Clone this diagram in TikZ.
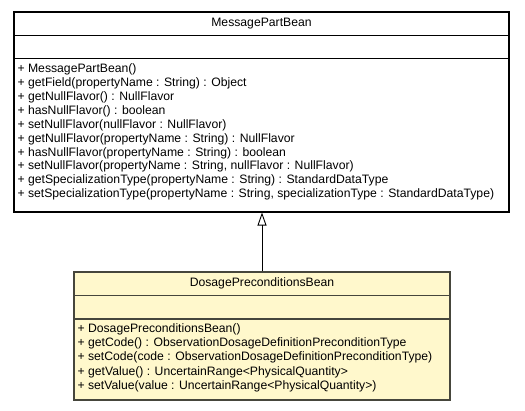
\documentclass[tikz,border=0pt]{standalone}
\usepackage{fontspec}
\setmainfont{Liberation Sans}
\usetikzlibrary{arrows.meta}
\definecolor{beanfill}{RGB}{255,248,204}
\definecolor{beanline}{RGB}{70,70,60}
\newcommand{\umltitle}[4]{\node[font=\fontsize{12.2}{14}\selectfont] (#1) at (#2,#3) {#4};}
\newcommand{\umlop}[4]{\node[anchor=west,inner sep=0pt,font=\fontsize{12.2}{14}\selectfont] (#1) at (#2,#3) {#4};}

\begin{document}
\begin{tikzpicture}[x=1pt,y=-1pt,line width=1.1pt,
  umlbox/.style={draw,rectangle,inner sep=0pt}]
\useasboundingbox (0,0) rectangle (525,411);
% ---- class boxes
\node[umlbox,fill=white,minimum width=495pt,minimum height=200pt] (mpb) at (261.5,112) {};
\node[umlbox,draw=beanline,fill=beanfill,minimum width=376pt,minimum height=128pt] (dpb) at (262,336) {};

% ---- compartment lines
\draw (14,35.3) -- (509,35.3);
\draw (14,58.5) -- (509,58.5);
\draw[beanline] (74,295.5) -- (450,295.5);
\draw[beanline] (74,319) -- (450,319);

% ---- generalization
\draw[line width=0.9pt,-{Triangle[open,length=13pt,width=9pt]}] (dpb.north) -- (dpb.north |- mpb.south);

% ---- class names
\umltitle{mpbname}{261.5}{23.5}{MessagePartBean}
\umltitle{dpbname}{262}{283.7}{DosagePreconditionsBean}

% ---- MessagePartBean operations
\umlop{m1}{17}{69.5}{+ MessagePartBean()}
\umlop{m2}{17}{83.4}{+ getField(propertyName : String) : Object}
\umlop{m3}{17}{97.3}{+ getNullFlavor() : NullFlavor}
\umlop{m4}{17}{111.2}{+ hasNullFlavor() : boolean}
\umlop{m5}{17}{125.1}{+ setNullFlavor(nullFlavor : NullFlavor)}
\umlop{m6}{17}{139}{+ getNullFlavor(propertyName : String) : NullFlavor}
\umlop{m7}{17}{152.9}{+ hasNullFlavor(propertyName : String) : boolean}
\umlop{m8}{17}{166.8}{+ setNullFlavor(propertyName : String, nullFlavor : NullFlavor)}
\umlop{m9}{17}{180.7}{+ getSpecializationType(propertyName : String) : StandardDataType}
\umlop{m10}{17}{194.6}{+ setSpecializationType(propertyName : String, specializationType : StandardDataType)}

% ---- DosagePreconditionsBean operations
\umlop{d1}{77}{329}{+ DosagePreconditionsBean()}
\umlop{d2}{77}{343.4}{+ getCode() : ObservationDosageDefinitionPreconditionType}
\umlop{d3}{77}{357.8}{+ setCode(code : ObservationDosageDefinitionPreconditionType)}
\umlop{d4}{77}{372.2}{+ getValue() : UncertainRange<PhysicalQuantity>}
\umlop{d5}{77}{386.6}{+ setValue(value : UncertainRange<PhysicalQuantity>)}
\end{tikzpicture}
\end{document}
